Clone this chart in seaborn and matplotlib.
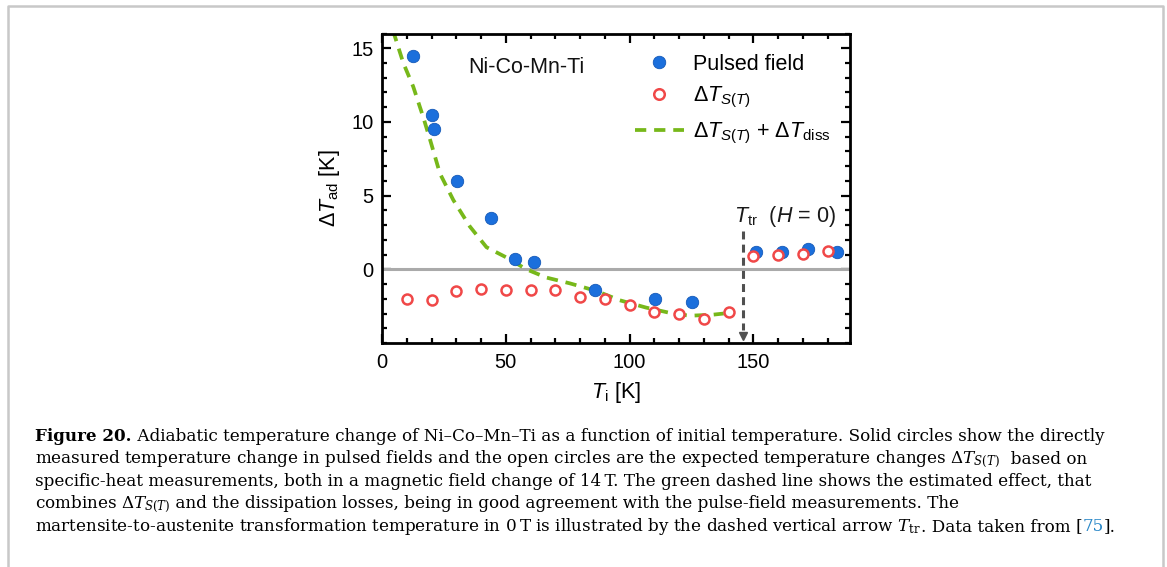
import numpy as np
import pandas as pd
import matplotlib
matplotlib.use("Agg")
import matplotlib.pyplot as plt
import seaborn as sns
from matplotlib.lines import Line2D
from matplotlib.ticker import MultipleLocator

# ---------------- data ----------------
pulsed_T = [12.4, 20.0, 21.1, 30.1, 44.2, 53.6, 61.3, 86.2, 110.1, 125.0, 151.1, 161.4, 172.0, 183.6]
pulsed_dT = [14.5, 10.5, 9.5, 6.0, 3.5, 0.7, 0.5, -1.4, -2.0, -2.25, 1.2, 1.2, 1.35, 1.2]

st_T = [10, 20, 30, 40, 50, 60, 70, 80, 90, 100, 110, 120, 130, 140, 150, 160, 170, 180]
st_dT = [-2.0, -2.1, -1.5, -1.35, -1.4, -1.4, -1.4, -1.85, -2.0, -2.4, -2.9, -3.0, -3.4, -2.9,
         0.9, 0.95, 1.05, 1.25]

curve_T = [4.3, 5.2, 8.6, 12.6, 16.7, 19.4, 23.4, 28.8, 35.5, 42.2, 50.3, 58.3, 66.4, 75.8,
           86.6, 96.0, 106.7, 116.1, 124.2, 133.6, 138.0]
curve_dT = [16.2, 15.8, 14.0, 12.4, 10.3, 8.8, 6.5, 4.7, 2.9, 1.5, 0.8, 0.0, -0.56, -0.95,
            -1.47, -2.1, -2.6, -2.95, -3.15, -3.08, -3.0]

x_major = [0, 50, 100, 150]
y_major = [0, 5, 10, 15]

arrow_T = 145.7
arrow_top = 2.6
arrow_tip = -4.55

legend_labels = ["Pulsed field", r"$\Delta T_{S(T)}$", r"$\Delta T_{S(T)}$ + $\Delta T_{\rm diss}$"]

caption_lines = [
    [("Figure 20.", "bold", "black"),
     (" Adiabatic temperature change of Ni\u2013Co\u2013Mn\u2013Ti as a function of initial temperature. "
      "Solid circles show the directly", "normal", "black")],
    [("measured temperature change in pulsed fields and the open circles are the expected temperature "
      r"changes $\Delta T_{S(T)}$", "normal", "black"), ("  based on", "normal", "black")],
    [("specific-heat measurements, both in a magnetic field change of 14\u2009T. The green dashed line "
      "shows the estimated effect, that", "normal", "black")],
    [(r"combines $\Delta T_{S(T)}$", "normal", "black"),
     (" and the dissipation losses, being in good agreement with the "
      "pulse-field measurements. The", "normal", "black")],
    [("martensite-to-austenite transformation temperature in 0\u2009T is illustrated by the dashed "
      r"vertical arrow $T_{\rm tr}$", "normal", "black"),
     (". Data taken from [", "normal", "black"),
     ("75", "normal", "#2a88c8"), ("].", "normal", "black")],
]

# ---------------- style ----------------
sns.set_style("ticks")
plt.rcParams["font.family"] = ["Liberation Sans", "DejaVu Sans"]
plt.rcParams["mathtext.fontset"] = "custom"
plt.rcParams["mathtext.rm"] = "Liberation Sans"
plt.rcParams["mathtext.it"] = "Liberation Sans:italic"
plt.rcParams["mathtext.bf"] = "Liberation Sans:bold"
plt.rcParams["text.color"] = "black"
plt.rcParams["axes.labelcolor"] = "black"
plt.rcParams["xtick.color"] = "black"
plt.rcParams["ytick.color"] = "black"

blue = "#1b6fdc"
blue_edge = "#1459b8"
red = "#f04848"
green = "#77b81a"
arrow_col = "#505050"

W, H = 1167, 567
fig = plt.figure(figsize=(W / 100, H / 100), dpi=100)
ax = fig.add_axes([382 / W, 1 - 343 / H, 468 / W, 309.5 / H])

ax.axhline(0, color="#aaaaaa", lw=2.2, zorder=1)

sns.lineplot(x=curve_T, y=curve_dT, ax=ax, color=green, lw=2.7, sort=False,
             linestyle=(0, (3, 2.1)), zorder=2)
sns.scatterplot(x=pulsed_T, y=pulsed_dT, ax=ax, s=80, color=blue, edgecolor=blue_edge,
                linewidth=0.6, zorder=3)
sns.scatterplot(x=st_T, y=st_dT, ax=ax, s=52, facecolor="white", edgecolor=red,
                linewidth=1.8, zorder=4)

# transition arrow
ax.plot([arrow_T, arrow_T], [arrow_top, arrow_tip + 0.45], ls=(0, (2.6, 1.7)),
        color=arrow_col, lw=2.2, zorder=2)
ax.plot([arrow_T], [arrow_tip], marker="v", color=arrow_col, ms=6, ls="none", zorder=2)

ax.text(142.3, 3.6, r"$T_{\rm tr}$  ($H$ = 0)", fontsize=15.5, ha="left", va="center",
        color="#1a1a1a")
ax.text(58.5, 13.7, "Ni-Co-Mn-Ti", fontsize=15.5, ha="center", va="center", color="#111111")

ax.set_xlim(0, 189)
ax.set_ylim(-5, 16)
ax.set_xticks(x_major)
ax.set_yticks(y_major)
ax.xaxis.set_minor_locator(MultipleLocator(10))
ax.yaxis.set_minor_locator(MultipleLocator(1))
ax.tick_params(which="both", direction="in", top=True, right=True, width=1.6, color="black")
ax.tick_params(which="major", length=6.5, labelsize=14.5)
ax.tick_params(which="minor", length=3.5)
ax.tick_params(axis="x", which="major", pad=7)
ax.tick_params(axis="y", which="major", pad=6)
for sp in ax.spines.values():
    sp.set_linewidth(2.0)
    sp.set_color("black")

ax.set_xlabel(r"$T_{\rm i}$ [K]", fontsize=15.5, labelpad=6)
ax.set_ylabel(r"$\Delta T_{\rm ad}$ [K]", fontsize=15.5, labelpad=7)

h1 = Line2D([], [], marker="o", ls="none", ms=9, mfc=blue, mec=blue_edge, mew=0.6)
h2 = Line2D([], [], marker="o", ls="none", ms=7.6, mfc="white", mec=red, mew=1.8)
h3 = Line2D([], [], color=green, lw=2.7, ls=(0, (3, 2.1)))
ax.legend([h1, h2, h3], legend_labels, loc="upper left", bbox_to_anchor=(0.54, 0.935),
          frameon=False, fontsize=15.5, handlelength=2.3, handletextpad=0.4,
          labelspacing=0.5, borderpad=0, borderaxespad=0)

# frame around figure
fig.add_artist(Line2D([7.5 / W, 7.5 / W, 1163 / W, 1163 / W],
                      [0, 1 - 5.7 / H, 1 - 5.7 / H, 0], transform=fig.transFigure,
                      color="#c8c8c8", lw=1.8))

# ---------------- caption ----------------
renderer = fig.canvas.get_renderer()
cap_family = ["DejaVu Serif"]


def draw_line(pieces, y_px, size):
    x = 35.0
    arts = []
    for txt, weight, col in pieces:
        t = fig.text(x / W, 1 - y_px / H, txt, fontsize=size, fontweight=weight, color=col,
                     family=cap_family, math_fontfamily="dejavuserif", va="baseline", ha="left")
        bb = t.get_window_extent(renderer)
        x = bb.x1
        arts.append(t)
    return arts, x


# fit size so that line 1 ends near x=1100
test_arts, xend = draw_line(caption_lines[0], 441, 12)
for a in test_arts:
    a.remove()
size = 12 * (1100 - 35) / (xend - 35)

baselines = [441, 463.5, 486, 508.5, 531]
for pieces, yb in zip(caption_lines, baselines):
    draw_line(pieces, yb, size)

fig.savefig("out.png", dpi=100)
